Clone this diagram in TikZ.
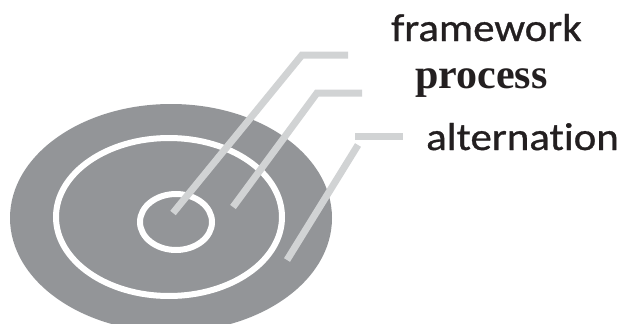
\documentclass[tikz,border=0pt]{standalone}
\usepackage{fontspec}
\newfontfamily\labelsans[FakeStretch=1.1, FakeBold=0.8, Ligatures=NoCommon]{Carlito}
\newfontfamily\labelserif{Liberation Serif}
\usepackage{tikz}
\usetikzlibrary{positioning}
\usepackage{xcolor}
\definecolor{diskgray}{RGB}{147,149,152}
\definecolor{leadergray}{RGB}{209,211,212}
\definecolor{inkblack}{RGB}{35,31,32}

\begin{document}
\begin{tikzpicture}[x=1pt, y=-1pt,
  ring/.style={draw=white, line width=6pt},
  leader/.style={draw=leadergray, line width=7pt},
  lbl/.style={anchor=base west, inner sep=0pt, text=inkblack}]
  \useasboundingbox (0,0) rectangle (624,324);
  % target disc with two white rings
  \fill[diskgray] (171,218) ellipse [x radius=161, y radius=114];
  \draw[ring] (169,217) ellipse [x radius=113, y radius=79];
  \draw[ring] (176,222) ellipse [x radius=36, y radius=28];
  % labels
  \node[lbl, font=\labelsans\fontsize{39}{44}\selectfont] (framework) at (391,41) {framework};
  \node[lbl, font=\labelserif\bfseries\fontsize{42}{46}\selectfont] (process) at (415,88) {process};
  \node[lbl, font=\labelsans\fontsize{39}{44}\selectfont] (alternation) at (426,150) {alternation};
  % leader lines
  \coordinate (fwTip) at (173,213);
  \coordinate (fwCorner) at (302,55);
  \coordinate (fwBar) at (348,55);
  \coordinate (prTip) at (233,207);
  \coordinate (prCorner) at (317,93);
  \coordinate (prBar) at (362,93);
  \coordinate (alTip) at (287,260);
  \coordinate (alTop) at (358,145);
  \coordinate (alBarL) at (355,136);
  \coordinate (alBarR) at (403,136);
  \draw[leader] (fwTip) -- (fwCorner) -- (fwBar);
  \draw[leader] (prTip) -- (prCorner) -- (prBar);
  \draw[leader] (alTip) -- (alTop);
  \draw[leader] (alBarL) -- (alBarR);
\end{tikzpicture}
\end{document}
